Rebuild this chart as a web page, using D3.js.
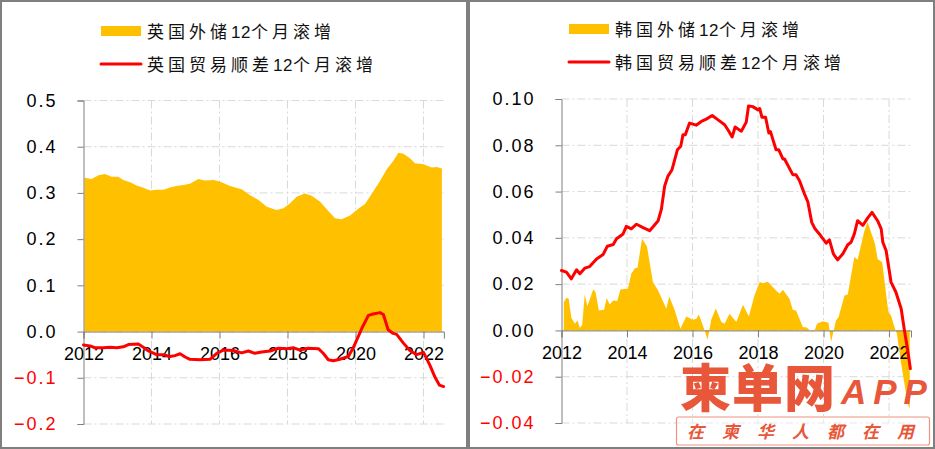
<!DOCTYPE html>
<html>
<head>
<meta charset="utf-8">
<script src="https://cdn.jsdelivr.net/npm/d3@7"></script>
<style>
  html, body { margin: 0; padding: 0; background: #fff; }
  svg { display: block; }
  text { font-family: "Liberation Sans", "Noto Sans CJK SC", sans-serif; }
</style>
</head>
<body>
<div id="chart"></div>
<script>
// 英国
var ukReserveYears = [2012.03,2012.24,2012.44,2012.63,2012.83,2013.02,2013.17,2013.37,2013.56,2013.76,2013.96,2014.15,2014.35,2014.54,2014.74,2014.94,2015.13,2015.38,2015.57,2015.82,2016.01,2016.31,2016.65,2016.9,2017.14,2017.39,2017.68,2017.88,2018.07,2018.27,2018.51,2018.71,2018.96,2019.2,2019.4,2019.59,2019.84,2020.08,2020.28,2020.47,2020.72,2020.92,2021.11,2021.26,2021.41,2021.6,2021.75,2022.0,2022.24,2022.39,2022.54];
var ukReserves = [.333,.330,.338,.341,.335,.335,.328,.323,.316,.311,.305,.307,.307,.312,.315,.317,.320,.330,.327,.328,.325,.315,.308,.295,.285,.270,.263,.267,.277,.292,.299,.294,.281,.261,.245,.243,.251,.266,.276,.297,.326,.351,.369,.387,.385,.375,.364,.362,.355,.356,.353];
var ukTradeYears = [2012,2012.19,2012.34,2012.58,2012.78,2012.98,2013.17,2013.32,2013.61,2013.76,2013.91,2014.15,2014.35,2014.54,2014.69,2014.84,2014.99,2015.13,2015.43,2015.72,2015.92,2016.11,2016.41,2016.65,2016.85,2017.04,2017.24,2017.49,2017.73,2017.98,2018.17,2018.37,2018.61,2018.91,2019.05,2019.2,2019.35,2019.54,2019.79,2019.94,2020.18,2020.38,2020.52,2020.72,2020.82,2020.96,2021.11,2021.21,2021.41,2021.6,2021.8,2022.0,2022.19,2022.34,2022.47,2022.59];
var ukTrade = [-.029,-.031,-.035,-.035,-.034,-.035,-.033,-.028,-.027,-.034,-.042,-.050,-.050,-.054,-.052,-.048,-.055,-.060,-.061,-.060,-.047,-.040,-.041,-.046,-.042,-.047,-.044,-.042,-.036,-.037,-.035,-.040,-.036,-.037,-.047,-.061,-.063,-.060,-.054,-.034,.006,.035,.038,.041,.037,.004,-.004,-.006,-.025,-.041,-.050,-.045,-.073,-.099,-.116,-.119];
var ukTicks = [.5,.4,.3,.2,.1,0,-.1,-.2];

// 韩国
var krReserveYears = [2012.07,2012.15,2012.22,2012.3,2012.41,2012.49,2012.56,2012.63,2012.71,2012.79,2012.97,2013.04,2013.14,2013.3,2013.38,2013.47,2013.58,2013.7,2013.8,2014.03,2014.13,2014.24,2014.32,2014.46,2014.61,2014.79,2014.95,2015.2,2015.29,2015.46,2015.63,2015.81,2016.01,2016.12,2016.19,2016.27,2016.37,2016.46,2016.57,2016.71,2016.88,2016.98,2017.13,2017.34,2017.54,2017.72,2017.89,2018.05,2018.15,2018.3,2018.55,2018.66,2018.76,2018.96,2019.06,2019.16,2019.37,2019.47,2019.62,2019.72,2019.8,2019.98,2020.15,2020.23,2020.38,2020.46,2020.64,2020.74,2020.94,2021.04,2021.25,2021.35,2021.45,2021.57,2021.65,2021.79,2021.98,2022.06,2022.18,2022.24,2022.37,2022.47,2022.57,2022.63];
var krReserves = [.0122,.0141,.0137,.0055,.0029,.0043,.0012,.0022,.0155,.0104,.0178,.0165,.0086,.0089,.014,.0112,.0129,.0127,.0177,.0181,.0245,.0269,.0271,.0396,.0363,.0209,.0173,.0094,.0147,.0086,.0007,.006,.0046,.005,.0069,.004,0,-.004,.0046,.0095,.0036,.0029,.0072,.0036,.0111,.006,.0151,.0209,.0204,.021,.0173,.0158,.0176,.0137,.0089,.0086,.0014,.0014,-.0004,-.0004,.0029,.004,.0033,-.005,.0043,.0058,.0151,.0155,.0317,.0305,.0432,.0468,.0424,.0374,.0309,.0295,.0079,.0065,.0007,-.0014,-.0144,-.023,-.0317,-.0338];
var krTradeYears = [2012,2012.15,2012.3,2012.46,2012.56,2012.71,2012.86,2013.07,2013.27,2013.4,2013.58,2013.68,2013.88,2013.98,2014.13,2014.29,2014.49,2014.69,2014.79,2014.95,2015.05,2015.15,2015.25,2015.37,2015.54,2015.64,2015.71,2015.78,2015.91,2016.11,2016.27,2016.42,2016.6,2016.78,2016.98,2017.08,2017.21,2017.3,2017.49,2017.64,2017.71,2017.84,2018,2018.05,2018.12,2018.23,2018.33,2018.38,2018.55,2018.63,2018.76,2018.81,2019.06,2019.16,2019.27,2019.42,2019.52,2019.64,2019.74,2019.91,2020.08,2020.18,2020.3,2020.43,2020.59,2020.74,2020.84,2020.94,2021.04,2021.2,2021.35,2021.48,2021.65,2021.76,2021.81,2021.91,2022.06,2022.21,2022.37,2022.47,2022.57,2022.65];
var krTrade = [.0259,.0252,.0223,.0262,.0245,.0269,.0276,.0309,.0328,.0364,.0371,.0396,.0417,.045,.0439,.0459,.0444,.0431,.0447,.0474,.0524,.0624,.0667,.0693,.0781,.0796,.0846,.0846,.0896,.0887,.0903,.0913,.0929,.091,.0889,.0867,.0836,.0879,.0861,.09,.097,.0967,.0953,.0959,.0921,.0921,.0853,.0859,.0781,.0781,.0741,.0741,.0673,.0673,.0646,.0589,.0556,.0467,.0439,.041,.0377,.0391,.0331,.0305,.0331,.037,.0381,.0417,.0474,.0454,.0486,.051,.0474,.0439,.0381,.0345,.0209,.0165,.0094,0,-.0086,-.0165];
var krTicks = [.1,.08,.06,.04,.02,0,-.02,-.04];

var yearTicks = [2012,2014,2016,2018,2020,2022];

var width = 935, height = 449;
var svg = d3.select("#chart").append("svg").attr("width", width).attr("height", height);

function drawPanel(opt) {
  // 外框
  svg.append("rect")
    .attr("x", opt.box[0]).attr("y", opt.box[1])
    .attr("width", opt.box[2]).attr("height", opt.box[3])
    .attr("fill", "#fff").attr("stroke", "#7f7f7f").attr("stroke-width", 2);

  var x = d3.scaleLinear().domain([2012, opt.xMax]).range(opt.xRange);
  var y = d3.scaleLinear().domain(opt.yDomain).range(opt.yRange);
  var g = svg.append("g");

  // 网格
  g.selectAll(".gx").data(yearTicks.slice(1)).enter().append("line")
    .attr("x1", function (d) { return x(d); }).attr("x2", function (d) { return x(d); })
    .attr("y1", opt.yRange[1]).attr("y2", opt.yRange[0])
    .attr("stroke", "#d9d9d9").attr("stroke-dasharray", "8 3 2 3");
  g.selectAll(".gy").data(opt.ticks).enter().append("line")
    .attr("x1", opt.xRange[0]).attr("x2", opt.xRange[1])
    .attr("y1", function (d) { return y(d); }).attr("y2", function (d) { return y(d); })
    .attr("stroke", "#d9d9d9").attr("stroke-dasharray", "8 3 2 3");

  // 面积
  var area = d3.area()
    .x(function (d, i) { return x(opt.areaYears[i]); })
    .y0(y(0))
    .y1(function (d) { return y(d); });
  g.append("path").datum(opt.area).attr("d", area).attr("fill", "#FFC000");

  // 坐标轴
  var yAxis = g.append("g").attr("transform", "translate(" + opt.xRange[0] + ",0)")
    .call(d3.axisLeft(y).tickValues(opt.ticks).tickFormat(d3.format(opt.fmt)).tickSize(6).tickPadding(20));
  yAxis.selectAll("text")
    .attr("font-size", 18).attr("letter-spacing", 2)
    .attr("fill", function (d) { return d < 0 ? "#ff0000" : "#000"; });
  var xAxis = g.append("g").attr("transform", "translate(0," + y(0) + ")")
    .call(d3.axisBottom(x).tickValues(yearTicks).tickFormat(d3.format("d")).tickSize(7).tickPadding(9));
  xAxis.selectAll("text").attr("font-size", 18).attr("fill", "#000");
  g.selectAll(".domain, .tick line").attr("stroke", "#7f7f7f");

  // 折线
  var line = d3.line()
    .x(function (d, i) { return x(opt.lineYears[i]); })
    .y(function (d) { return y(d); });
  g.append("path").datum(opt.line).attr("d", line)
    .attr("fill", "none").attr("stroke", "#ff0000").attr("stroke-width", 3)
    .attr("stroke-linejoin", "round").attr("stroke-linecap", "round");

  // 图例
  svg.append("rect").attr("x", opt.legendX).attr("y", opt.legendY - 6)
    .attr("width", 40).attr("height", 10).attr("fill", "#FFC000");
  svg.append("line").attr("x1", opt.legendX).attr("x2", opt.legendX + 40)
    .attr("y1", opt.legendY + 32).attr("y2", opt.legendY + 32)
    .attr("stroke", "#ff0000").attr("stroke-width", 3).attr("stroke-linecap", "round");
  [opt.label1, opt.label2].forEach(function (t, i) {
    var label = svg.append("text").attr("x", opt.legendX + 46).attr("y", opt.legendY + i * 32.5 + 6)
      .attr("font-size", 17).attr("fill", "#111");
    // 数字紧凑，汉字字距大
    t.split(/(12)/).forEach(function (part) {
      label.append("tspan").attr("letter-spacing", part === "12" ? 0.5 : 4).text(part);
    });
  });
}

drawPanel({
  box: [1, 1, 466, 447],
  xMax: 2022.6, xRange: [83.5, 443.9],
  yDomain: [-0.2, 0.5], yRange: [424, 100.5],
  ticks: ukTicks, fmt: ".1f",
  area: ukReserves, areaYears: ukReserveYears,
  line: ukTrade, lineYears: ukTradeYears,
  legendX: 101, legendY: 32,
  label1: "英国外储12个月滚增", label2: "英国贸易顺差12个月滚增"
});

drawPanel({
  box: [469, 1, 465, 447],
  xMax: 2022.67, xRange: [561.5, 911],
  yDomain: [-0.04, 0.1], yRange: [423, 99],
  ticks: krTicks, fmt: ".2f",
  area: krReserves, areaYears: krReserveYears,
  line: krTrade, lineYears: krTradeYears,
  legendX: 569, legendY: 30,
  label1: "韩国外储12个月滚增", label2: "韩国贸易顺差12个月滚增"
});

// 水印
svg.append("rect").attr("x", 676.5).attr("y", 417).attr("width", 253).attr("height", 28).attr("rx", 2)
  .attr("fill", "#fff").attr("fill-opacity", 0.4).attr("stroke", "#F0947F").attr("stroke-width", 1.2);
var mark = svg.append("g").attr("fill", "#E8573A");
mark.append("text").attr("x", 680).attr("y", 407).attr("font-size", 51)
  .attr("font-weight", 900).attr("letter-spacing", 1).text("柬单网");
mark.append("text").attr("x", 841).attr("y", 404).attr("font-size", 35)
  .attr("font-weight", 700).attr("font-style", "italic").attr("letter-spacing", 7).text("APP");
mark.append("text").attr("x", 687).attr("y", 438).attr("font-size", 17)
  .attr("font-weight", 700).attr("font-style", "italic").attr("letter-spacing", 18).text("在柬华人都在用");
</script>
</body>
</html>
